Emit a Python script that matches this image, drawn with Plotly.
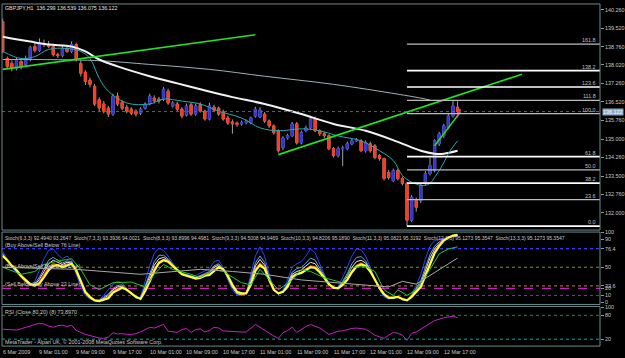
import plotly.graph_objects as go

# ---------------- data ----------------
symbol_title = "GBPJPY,H1  136.299 136.539 136.075 136.122"
bars = list(range(100))
opens = [139.78,138.28,138.08,137.88,138.16,138.04,138.24,138.77,138.61,138.89,
         138.86,138.77,138.44,138.40,138.69,138.57,138.85,138.08,137.72,137.40,
         137.15,136.60,136.43,136.26,136.02,136.75,136.50,136.30,136.22,136.14,
         136.06,136.26,136.43,136.67,136.63,136.63,136.95,136.35,136.43,136.22,
         135.98,136.40,136.02,136.40,136.14,135.82,136.30,136.26,136.10,135.86,
         135.70,135.66,135.62,135.68,135.66,135.94,135.90,136.02,135.74,135.54,
         135.34,134.65,135.05,135.14,135.62,134.85,135.34,135.46,135.82,135.34,
         135.22,135.14,134.61,134.33,134.61,134.61,134.81,134.93,134.93,134.53,
         134.81,134.73,134.33,134.21,133.64,133.32,133.72,133.40,133.20,131.70,
         132.51,132.51,133.20,133.60,133.72,134.81,135.14,135.46,135.94,136.299]
highs = [139.90,138.36,138.20,138.32,138.28,138.40,138.80,138.90,139.10,139.05,
         139.00,138.85,138.52,138.80,138.78,138.98,138.93,138.20,137.80,137.50,
         137.25,136.70,136.55,136.35,136.85,136.90,136.60,136.40,136.30,136.22,
         136.30,136.50,136.85,136.78,136.72,137.12,137.05,136.55,136.52,136.30,
         136.45,136.50,136.45,136.50,136.20,136.48,136.40,136.32,136.20,135.95,
         135.80,135.72,135.76,135.80,135.92,136.32,136.30,136.10,135.80,135.60,
         135.40,135.12,135.22,135.70,135.70,135.35,135.55,135.95,135.92,135.40,
         135.30,135.20,134.68,134.70,134.73,134.90,135.02,135.05,135.00,134.95,
         134.90,134.80,134.40,134.25,133.75,133.80,133.80,133.48,133.25,132.72,
         132.62,133.20,133.70,134.25,135.00,135.30,135.62,136.02,136.55,136.539]
lows = [138.50,137.88,137.76,137.80,137.84,137.96,138.16,138.52,138.55,138.75,
        138.70,138.36,138.30,138.32,138.50,138.50,138.16,137.55,137.20,137.10,
        136.35,136.10,136.05,135.90,135.95,136.35,136.18,136.05,135.98,135.92,
        135.98,136.20,136.38,136.45,136.45,136.55,136.40,136.28,136.15,135.85,
        135.92,135.95,135.95,136.08,135.75,135.76,136.10,135.95,135.75,135.58,
        135.22,135.50,135.55,135.60,135.60,135.88,135.85,135.66,135.46,135.18,
        134.45,134.55,134.98,135.08,134.78,134.78,135.28,135.40,135.28,135.12,
        135.05,134.55,134.25,134.25,133.90,134.55,134.75,134.88,134.48,134.45,
        134.45,134.18,134.12,133.32,133.35,133.25,133.32,133.12,131.46,131.62,
        132.05,132.40,133.12,133.52,133.65,134.72,135.05,135.40,135.88,136.075]
closes = [138.57,137.96,137.88,138.24,137.96,138.28,138.73,138.61,138.93,138.86,
          138.77,138.44,138.40,138.69,138.57,138.85,138.24,137.68,137.35,137.23,
          136.43,136.27,136.14,136.02,136.75,136.43,136.26,136.14,136.06,136.02,
          136.22,136.43,136.75,136.55,136.55,137.03,136.47,136.47,136.22,135.94,
          136.35,136.02,136.35,136.14,135.82,136.35,136.18,136.02,135.82,135.66,
          135.62,135.60,135.68,135.74,135.86,136.22,136.18,135.74,135.54,135.26,
          134.53,135.05,135.14,135.62,134.85,135.26,135.46,135.82,135.34,135.22,
          135.14,134.61,134.33,134.61,134.63,134.81,134.93,134.97,134.53,134.85,
          134.53,134.25,134.21,133.40,133.44,133.72,133.40,133.20,131.70,132.63,
          132.23,133.12,133.60,133.92,134.93,135.22,135.54,135.94,136.35,136.122]

# moving averages (bar index, price)
white_ma_k = [0,6,10,15,18,21,25,32,38,43,50,57,65,72,79,86,91,94,96,99]
white_ma_v = [139.17,138.97,138.85,138.77,138.57,138.24,137.96,137.56,137.27,137.03,
              136.71,136.43,136.02,135.62,135.34,134.89,134.53,134.41,134.41,134.53]
teal_ma_k = [0,4,7,10,14,17,19,21,23,27,32,35,39,43,47,52,56,60,65,69,73,78,82,85,87,89,91,92,93,94,95,96,97,98,99]
teal_ma_v = [138.57,138.28,138.36,138.65,138.69,138.57,138.28,137.48,136.95,136.47,136.43,136.63,
             136.55,136.43,136.14,135.86,135.46,135.34,135.42,135.34,135.13,134.93,134.53,134.13,
             133.52,133.25,133.12,133.12,133.20,133.44,133.72,134.04,134.41,134.69,134.93]
gray_ma_k = [0,20,32,45,57,72,86,91,93]
gray_ma_v = [138.24,138.20,138.04,137.84,137.56,137.23,136.83,136.67,136.59]

# trend lines (bar index, price)
trend1_k = [0, 55]
trend1_p = [137.84, 139.25]
trend2_k = [60, 113]
trend2_p = [134.37, 137.64]
trend3_k = [94, 99.6]
trend3_p = [134.73, 136.10]
trend4_k = [98.8, 99.6]
trend4_p = [135.86, 136.22]

# fibonacci
fib_start = 88
fib_low = 131.46
fib_high = 136.04
fib_ratios = [1.618, 1.382, 1.236, 1.118, 1.0, 0.618, 0.5, 0.382, 0.236, 0.0]
fib_labels = ["161.8", "138.2", "123.6", "111.8", "100.0", "61.8", "50.0", "38.2", "23.6", "0.0"]
fib_bright = [False, True, True, False, False, True, False, True, False, True]

price_ticks = [140.26, 139.52, 138.76, 138.02, 137.26, 136.52, 135.76, 135.00, 134.26, 133.50, 132.76, 132.00, 131.26]

# stochastics
stoch_blue = [72,62,50,42,35,28,24,30,45,62, 74,76,68,62,66,60,40,22,10,5,
              3,4,10,18,26,30,28,20,12,6, 8,30,52,70,77,74,66,56,48,42,
              40,38,38,42,45,48,58,60,50,32, 18,10,10,14,40,66,79,66,40,20,
              12,18,32,50,55,58,66,76,70,55, 40,28,20,22,35,50,66,76,75,66,
              50,33,18,8,5,6,8,4,3,12, 24,40,62,80,88,90,91,92,93,94]
stoch_steel = [69,61,51,44,36,30,25,27,36,49, 60,64,60,56,59,58,43,26,12,6,
               3,3,7,12,20,24,25,19,12,7, 6,23,41,58,67,67,62,54,47,41,
               39,37,36,38,41,44,52,55,48,35, 21,12,11,13,33,56,66,57,36,19,
               12,16,27,43,48,50,56,63,60,49, 37,27,20,21,30,41,55,64,65,59,
               47,32,19,10,6,6,8,4,3,10, 20,31,50,68,80,86,90,93,94,95]
stoch_white = [68,60,51,44,36,30,25,25,33,44, 55,60,57,54,57,56,43,27,13,6,
               3,2,6,10,18,22,23,18,12,7, 5,20,37,53,62,64,60,53,46,40,
               38,36,35,37,40,42,50,53,47,36, 22,13,11,13,30,52,61,53,34,18,
               12,15,25,40,44,46,52,57,55,46, 36,26,20,20,28,37,50,58,60,56,
               46,32,19,10,6,6,8,4,3,9, 18,27,45,63,76,84,89,93,94,95]
stoch_red = [67,60,52,45,37,31,25,24,30,40, 50,55,54,52,55,55,44,28,14,7,
             3,2,5,8,16,20,22,18,13,8, 5,18,33,48,58,61,59,53,46,40,
             38,36,34,36,39,40,47,51,47,37, 24,14,12,13,27,48,56,50,33,18,
             13,15,23,38,41,43,48,52,51,44, 35,26,21,20,26,34,45,53,56,53,
             45,32,20,11,7,7,8,5,3,8, 16,24,41,58,72,82,89,93,95,96]
stoch_yellow = [66,60,52,46,38,32,26,24,27,36, 46,52,53,50,53,55,46,30,15,8,
                3,2,4,6,14,18,21,18,13,8, 5,16,30,45,56,60,58,52,46,40,
                38,36,34,35,38,39,45,50,47,38, 25,15,13,13,25,45,53,48,32,18,
                13,15,22,36,40,42,46,50,49,43, 35,26,21,20,25,32,43,51,54,52,
                44,32,21,12,7,7,8,5,3,8, 15,22,38,55,70,80,88,92,95,96]
green_k = [0,4,7,9,12,15,17,19,21,24,28,31,33,35,37,41,43,46,48,52,54,56,60,63,65,67,70,74,76,79,81,83,85,86,88,90,93,95,97,99]
green_v = [50,40,44,54,59,62,47,25,18,28,29,22,40,54,47,40,35,47,44,28,25,47,18,32,47,44,35,28,50,51,44,18,10,18,10,18,47,69,76,79]
gray_k = [0,16,30,43,50,57,65,72,79,84,87,90,99]
gray_v = [50,47,40,47,44,40,32,28,25,22,30,26,63]
stoch_levels = [76.4, 50, 23.6, 20, 10]
stoch_ticks = [100, 90, 76.4, 50, 23.6, 20, 10, 0]

rsi = [45,44,43,43,46,50,53,57,60,58, 53,50,54,55,52,55,42,36,32,29,
       26,23,22,25,36,33,34,32,32,34, 38,44,50,48,52,57,40,38,37,44,
       47,37,44,46,38,42,50,48,41,40, 39,38,38,38,48,57,50,42,35,28,
       22,36,42,50,37,45,52,57,53,48, 40,32,36,40,41,44,47,48,46,45,
       38,30,26,22,30,37,35,30,17,35, 38,45,52,60,67,70,74,76,78,74]
rsi_levels = [80, 20]
rsi_ticks = [100, 80, 20, 0]
rsi_title = "RSI (Close,80,20) (8) 73.8970"

date_idx = [0, 8, 16, 24, 32, 40, 48, 56, 64, 72, 80, 88, 96]
date_labels = ["6 Mar 2009", "9 Mar 01:00", "9 Mar 09:00", "9 Mar 17:00", "10 Mar 01:00",
               "10 Mar 09:00", "10 Mar 17:00", "11 Mar 01:00", "11 Mar 09:00", "11 Mar 17:00",
               "12 Mar 01:00", "12 Mar 09:00", "12 Mar 17:00"]

stoch_header = ("Stoch(6,3,3) 92.4940 93.2647  Stoch(7,3,3) 93.3936 94.0021  Stoch(8,3,3) 93.8996 94.4981  "
                "Stoch(9,3,3) 94.5008 94.9469  Stoch(10,3,3) 94.8206 95.1890  Stoch(11,3,3) 95.0821 95.3192  "
                "Stoch(12,3,3) 95.1273 95.3547  Stoch(13,3,3) 95.1273 95.3547")

# ---------------- figure ----------------
H = 358.0
def py(Y):
    return 1 - Y / H

x_range = [-0.15, 130.0]
FONT = "Liberation Sans"
FS = 5.4
TXT = "#c8c8c8"

fig = go.Figure()

# candle wicks
fig.add_trace(go.Candlestick(
    x=bars, open=opens, high=highs, low=lows, close=closes,
    increasing=dict(line=dict(color="#a0a0a0", width=1), fillcolor="#a0a0a0"),
    decreasing=dict(line=dict(color="#a0a0a0", width=1), fillcolor="#a0a0a0"),
    whiskerwidth=0, xaxis="x", yaxis="y", hoverinfo="skip", showlegend=False))
body_hi = [max(o, c) for o, c in zip(opens, closes)]
body_lo = [min(o, c) for o, c in zip(opens, closes)]
fig.add_trace(go.Candlestick(
    x=bars, open=opens, high=body_hi, low=body_lo, close=closes,
    increasing=dict(line=dict(color="#3232d6", width=0.7), fillcolor="#3232d6"),
    decreasing=dict(line=dict(color="#ff3a1e", width=0.7), fillcolor="#ff3a1e"),
    whiskerwidth=0, xaxis="x", yaxis="y", hoverinfo="skip", showlegend=False))

# moving averages
fig.add_trace(go.Scatter(x=gray_ma_k, y=gray_ma_v, mode="lines", line=dict(color="#9db1ba", width=1, shape="spline"),
                         xaxis="x", yaxis="y", hoverinfo="skip"))
fig.add_trace(go.Scatter(x=white_ma_k, y=white_ma_v, mode="lines", line=dict(color="#f2f2f2", width=2, shape="spline"),
                         xaxis="x", yaxis="y", hoverinfo="skip"))
fig.add_trace(go.Scatter(x=teal_ma_k, y=teal_ma_v, mode="lines", line=dict(color="#27a9ad", width=1, shape="spline"),
                         xaxis="x", yaxis="y", hoverinfo="skip"))

# trend lines
for tk, tp, col in [(trend1_k, trend1_p, "#22e022"), (trend2_k, trend2_p, "#22e022"),
                    (trend3_k, trend3_p, "#22e022"), (trend4_k, trend4_p, "#ff3c8c")]:
    fig.add_trace(go.Scatter(x=tk, y=tp, mode="lines", line=dict(color=col, width=1.6),
                             xaxis="x", yaxis="y", hoverinfo="skip"))

shapes = []
annotations = []

# current price dotted line
shapes.append(dict(type="line", xref="paper", yref="y", x0=0, x1=1, y0=closes[-1], y1=closes[-1],
                   line=dict(color="#5a6a5a", width=1, dash="dot")))

# fibonacci levels
fib_range = fib_high - fib_low
for r, lab, bright in zip(fib_ratios, fib_labels, fib_bright):
    lvl = fib_low + r * fib_range
    shapes.append(dict(type="line", xref="x", yref="y", x0=fib_start, x1=x_range[1], y0=lvl, y1=lvl,
                       line=dict(color="#ffffff" if bright else "#bdbdbd", width=1.6 if bright else 1.3)))
    annotations.append(dict(x=x_range[1], y=lvl, xref="x", yref="y", text=lab, showarrow=False,
                            xanchor="right", yanchor="bottom", xshift=-2, yshift=-1,
                            font=dict(family=FONT, size=FS, color="#c0c0c0")))

# stochastics
for series, col, w in [(stoch_blue, "#2447ff", 1), (stoch_steel, "#6f9fd8", 1),
                       (stoch_white, "#dfe8f0", 1), (stoch_red, "#ff4020", 1.2),
                       (stoch_yellow, "#ffff33", 2.2)]:
    fig.add_trace(go.Scatter(x=bars, y=series, mode="lines", line=dict(color=col, width=w),
                             xaxis="x", yaxis="y2", hoverinfo="skip"))
fig.add_trace(go.Scatter(x=green_k, y=green_v, mode="lines", line=dict(color="#22c822", width=1),
                         xaxis="x", yaxis="y2", hoverinfo="skip"))
fig.add_trace(go.Scatter(x=gray_k, y=gray_v, mode="lines", line=dict(color="#a8a8a8", width=1),
                         xaxis="x", yaxis="y2", hoverinfo="skip"))

stoch_level_style = {76.4: ("#3a3aff", "dot", 1.3), 50: ("#8c8c1e", "dot", 1.2),
                     23.6: ("#a0642a", "dot", 1.2), 20: ("#c81ec8", "dash", 1.4), 10: ("#5a5a5a", "dot", 1)}
for lv in stoch_levels:
    col, dash, w = stoch_level_style[lv]
    shapes.append(dict(type="line", xref="paper", yref="y2", x0=0, x1=1, y0=lv, y1=lv,
                       line=dict(color=col, width=w, dash=dash), layer="below"))

# RSI
fig.add_trace(go.Scatter(x=bars, y=rsi, mode="lines", line=dict(color="#c81ec8", width=1),
                         xaxis="x", yaxis="y3", hoverinfo="skip"))
for lv, col in zip(rsi_levels, ["#00a000", "#00a8a8"]):
    shapes.append(dict(type="line", xref="paper", yref="y3", x0=0, x1=1, y0=lv, y1=lv,
                       line=dict(color=col, width=1, dash="dot"), layer="below"))

# pane frames
for y0, y1 in [(2, 230), (232, 305), (307, 347)]:
    shapes.append(dict(type="rect", xref="paper", yref="paper", x0=0, x1=1, y0=py(y1), y1=py(y0),
                       line=dict(color="#6b8b8d", width=1), fillcolor="rgba(0,0,0,0)", layer="above"))

# texts
def txt(xp, Y, s, color=TXT, size=FS):
    annotations.append(dict(x=xp, y=py(Y), xref="paper", yref="paper", text=s, showarrow=False,
                            xanchor="left", yanchor="middle", font=dict(family=FONT, size=size, color=color)))

txt(0.002, 6, symbol_title, "#e0e0e0", 5.3)
txt(0.002, 238, stoch_header, TXT, 5.0)
txt(0.002, 245, "(Buy Above/Sell Below 76 Line)")
txt(0.002, 266, "(Buy Above/Sell Below 50 Line)")
txt(0.002, 284, "(Sell Below/Buy Above 23 Line)")
txt(0.002, 313, rsi_title)
txt(0.002, 343, "MetaTrader - Alpari UK, \u00a9 2001-2008 MetaQuotes Software Corp.")

for i, lab in zip(date_idx, date_labels):
    annotations.append(dict(x=i, y=py(353), xref="x", yref="paper", text=lab, showarrow=False,
                            xanchor="left", yanchor="middle", xshift=-2,
                            font=dict(family=FONT, size=FS, color=TXT)))

# current price box
annotations.append(dict(x=1, y=closes[-1], xref="paper", yref="y", text="%.3f" % closes[-1], showarrow=False,
                        xanchor="left", yanchor="middle", xshift=2, bgcolor="#8ea9c6", borderpad=0,
                        font=dict(family=FONT, size=FS, color="#ffffff")))

axis_common = dict(side="right", anchor="x", showgrid=False, zeroline=False, showline=False,
                   ticks="outside", ticklen=3, tickcolor="#8a9a9a", tickwidth=1,
                   tickfont=dict(family=FONT, size=FS, color=TXT), fixedrange=True)

fig.update_layout(
    width=625, height=358, margin=dict(l=2, r=22, t=0, b=0),
    paper_bgcolor="black", plot_bgcolor="black", showlegend=False,
    xaxis=dict(range=x_range, visible=False, rangeslider=dict(visible=False), fixedrange=True),
    yaxis=dict(domain=[py(230), py(2)], range=[131.30, 140.50],
               tickvals=price_ticks, ticktext=["%.3f" % v for v in price_ticks], **axis_common),
    yaxis2=dict(domain=[py(305), py(231)], range=[-2.8, 101.4],
                tickvals=stoch_ticks, ticktext=[("%g" % v) for v in stoch_ticks], **axis_common),
    yaxis3=dict(domain=[py(347), py(307)], range=[2.5, 102.5],
                tickvals=rsi_ticks, ticktext=[str(v) for v in rsi_ticks], **axis_common),
    shapes=shapes, annotations=annotations,
)

fig.write_html("out.html")
